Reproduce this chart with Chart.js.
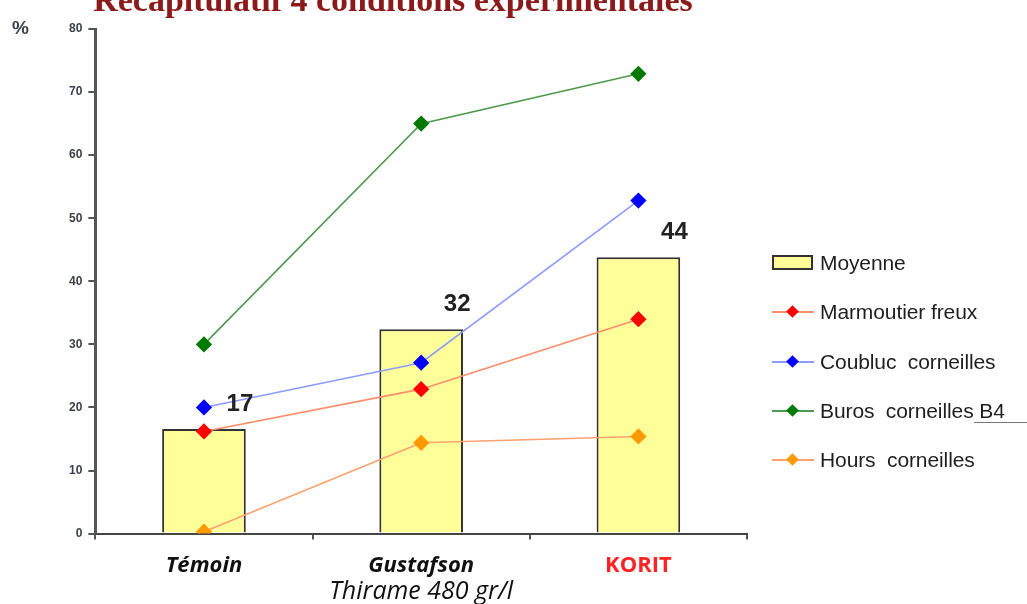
<!DOCTYPE html>
<html>
<head>
<meta charset="utf-8">
<script src="https://cdn.jsdelivr.net/npm/chart.js@4.4.0/dist/chart.umd.min.js"></script>
<style>
  html, body { margin: 0; padding: 0; background: #fff; }
  #wrap { position: relative; width: 1027px; height: 604px; overflow: hidden; }
  #title { position: absolute; left: 0; width: 786px; top: -19px; line-height: 39px; text-align: center;
    font: bold 34px "Liberation Serif", "DejaVu Serif", serif; color: #8b1a1a; white-space: nowrap; }
  #pct { position: absolute; left: 12px; top: 17px; font: bold 19px "Liberation Sans", Arial, sans-serif; color: #3a3f48; }
  #legend { position: absolute; left: 772px; top: 252px; font: 21px "Liberation Sans", Arial, sans-serif; color: #1e1e1e; }
  .item { position: relative; height: 22px; margin-bottom: 27.3px; white-space: pre; }
  .sw { position: absolute; left: 0; top: 10px; width: 42px; height: 2px; }
  .dia { position: absolute; left: 16px; top: 6px; width: 9px; height: 9px; transform: rotate(45deg); }
  .box { position: absolute; left: 0; top: 3px; width: 37px; height: 11px; background: #ffff99; border: 2px solid #333; }
  .txt { position: absolute; left: 48px; top: 0; line-height: 22px; letter-spacing: -0.1px; }
  .ul { border-bottom: 1px solid #777; padding-right: 42px; }
</style>
</head>
<body>
<div id="wrap">
  <canvas id="chart" width="1027" height="604"></canvas>
  <div id="title">Récapitulatif 4 conditions expérimentales</div>
  <div id="pct">%</div>
  <div id="legend"></div>
</div>
<script>
const categories = ['Témoin', 'Gustafson', 'KORIT'];
const subLabels = ['', 'Thirame 480 gr/l', ''];
const highlight = 'KORIT';

const moyenne = [16.6, 32.4, 43.8];
const marmoutier = [16.2, 22.9, 34.0];
const coubluc = [20.0, 27.1, 52.8];
const buros = [30.0, 65.0, 72.9];
const hours = [0.3, 14.4, 15.4];

const yTicks = { min: 0, max: 80, step: 10 };

const lineSet = (label, data, line, point) => ({
  type: 'line',
  label,
  data,
  borderColor: line,
  backgroundColor: point,
  pointBackgroundColor: point,
  pointBorderColor: point,
  pointStyle: 'rectRot',
  pointRadius: 7,
  borderWidth: 1.6,
  fill: false,
  tension: 0,
  order: 1,
});

const datasets = [
  {
    type: 'bar',
    label: 'Moyenne',
    data: moyenne,
    backgroundColor: '#ffff99',
    borderColor: '#333333',
    borderWidth: 2,
    barPercentage: 0.385,
    categoryPercentage: 1,
    order: 10,
  },
  lineSet('Marmoutier freux', marmoutier, '#ff8c6a', '#ff0000'),
  lineSet('Coubluc  corneilles', coubluc, '#8c9cff', '#0000ff'),
  lineSet('Buros  corneilles', buros, '#4f994f', '#007a00'),
  lineSet('Hours  corneilles', hours, '#ffa070', '#ff9900'),
];

// value labels above the bars
const barLabels = {
  id: 'barLabels',
  afterDatasetsDraw(chart) {
    const { ctx } = chart;
    const meta = chart.getDatasetMeta(0);
    ctx.save();
    ctx.font = 'bold 24px "Liberation Sans", Arial, sans-serif';
    ctx.fillStyle = '#222';
    ctx.textAlign = 'center';
    ctx.textBaseline = 'middle';
    meta.data.forEach((el, i) => {
      ctx.fillText(String(Math.round(moyenne[i])), el.x + 36, el.y - 25);
    });
    ctx.restore();
  },
};

// second line under the category names
const subTicks = {
  id: 'subTicks',
  afterDraw(chart) {
    const { ctx } = chart;
    const x = chart.scales.x;
    ctx.save();
    ctx.font = 'italic 25px "Open Sans", Lato, sans-serif';
    ctx.fillStyle = '#111';
    ctx.textAlign = 'center';
    ctx.textBaseline = 'middle';
    subLabels.forEach((s, i) => {
      if (s) ctx.fillText(s, x.getPixelForValue(i), x.top + 58);
    });
    ctx.restore();
  },
};

const chart = new Chart(document.getElementById('chart'), {
  data: { labels: categories, datasets },
  options: {
    responsive: false,
    animation: false,
    layout: { padding: { left: 63, right: 280, top: 29, bottom: 12 } },
    plugins: { legend: { display: false }, tooltip: { enabled: false }, title: { display: false } },
    scales: {
      x: {
        offset: true,
        grid: { display: true, drawOnChartArea: false, offset: true, tickLength: 6, color: '#555', lineWidth: 2 },
        border: { display: true, color: '#444', width: 2 },
        ticks: {
          padding: 13,
          color: ctx => (categories[ctx.index] === highlight ? '#ff2222' : '#111'),
          font: ctx => ({
            family: '"Open Sans", Lato, sans-serif',
            size: 22,
            weight: 'bold',
            style: categories[ctx.index] === highlight ? 'normal' : 'italic',
          }),
        },
      },
      y: {
        min: yTicks.min,
        max: yTicks.max,
        grid: { display: true, drawOnChartArea: false, tickLength: 7, color: '#555', lineWidth: 2 },
        border: { display: true, color: '#555', width: 3 },
        ticks: {
          stepSize: yTicks.step,
          padding: 6,
          color: '#3a3f48',
          font: { family: '"Liberation Sans", Arial, sans-serif', size: 12, weight: 'bold' },
        },
      },
    },
  },
  plugins: [barLabels, subTicks],
});

// legend built from the datasets
const legend = document.getElementById('legend');
datasets.forEach(ds => {
  const item = document.createElement('div');
  item.className = 'item';
  if (ds.type === 'bar') {
    item.innerHTML = '<div class="box"></div>';
  } else {
    item.innerHTML = `<div class="sw" style="background:${ds.borderColor}"></div>` +
      `<div class="dia" style="background:${ds.pointBackgroundColor}"></div>`;
  }
  const txt = document.createElement('div');
  txt.className = 'txt';
  txt.textContent = ds.label;
  if (ds.label.startsWith('Buros')) {
    const b4 = document.createElement('span');
    b4.className = 'ul';
    b4.textContent = ' B4';
    txt.appendChild(b4);
  }
  item.appendChild(txt);
  legend.appendChild(item);
});
</script>
</body>
</html>
